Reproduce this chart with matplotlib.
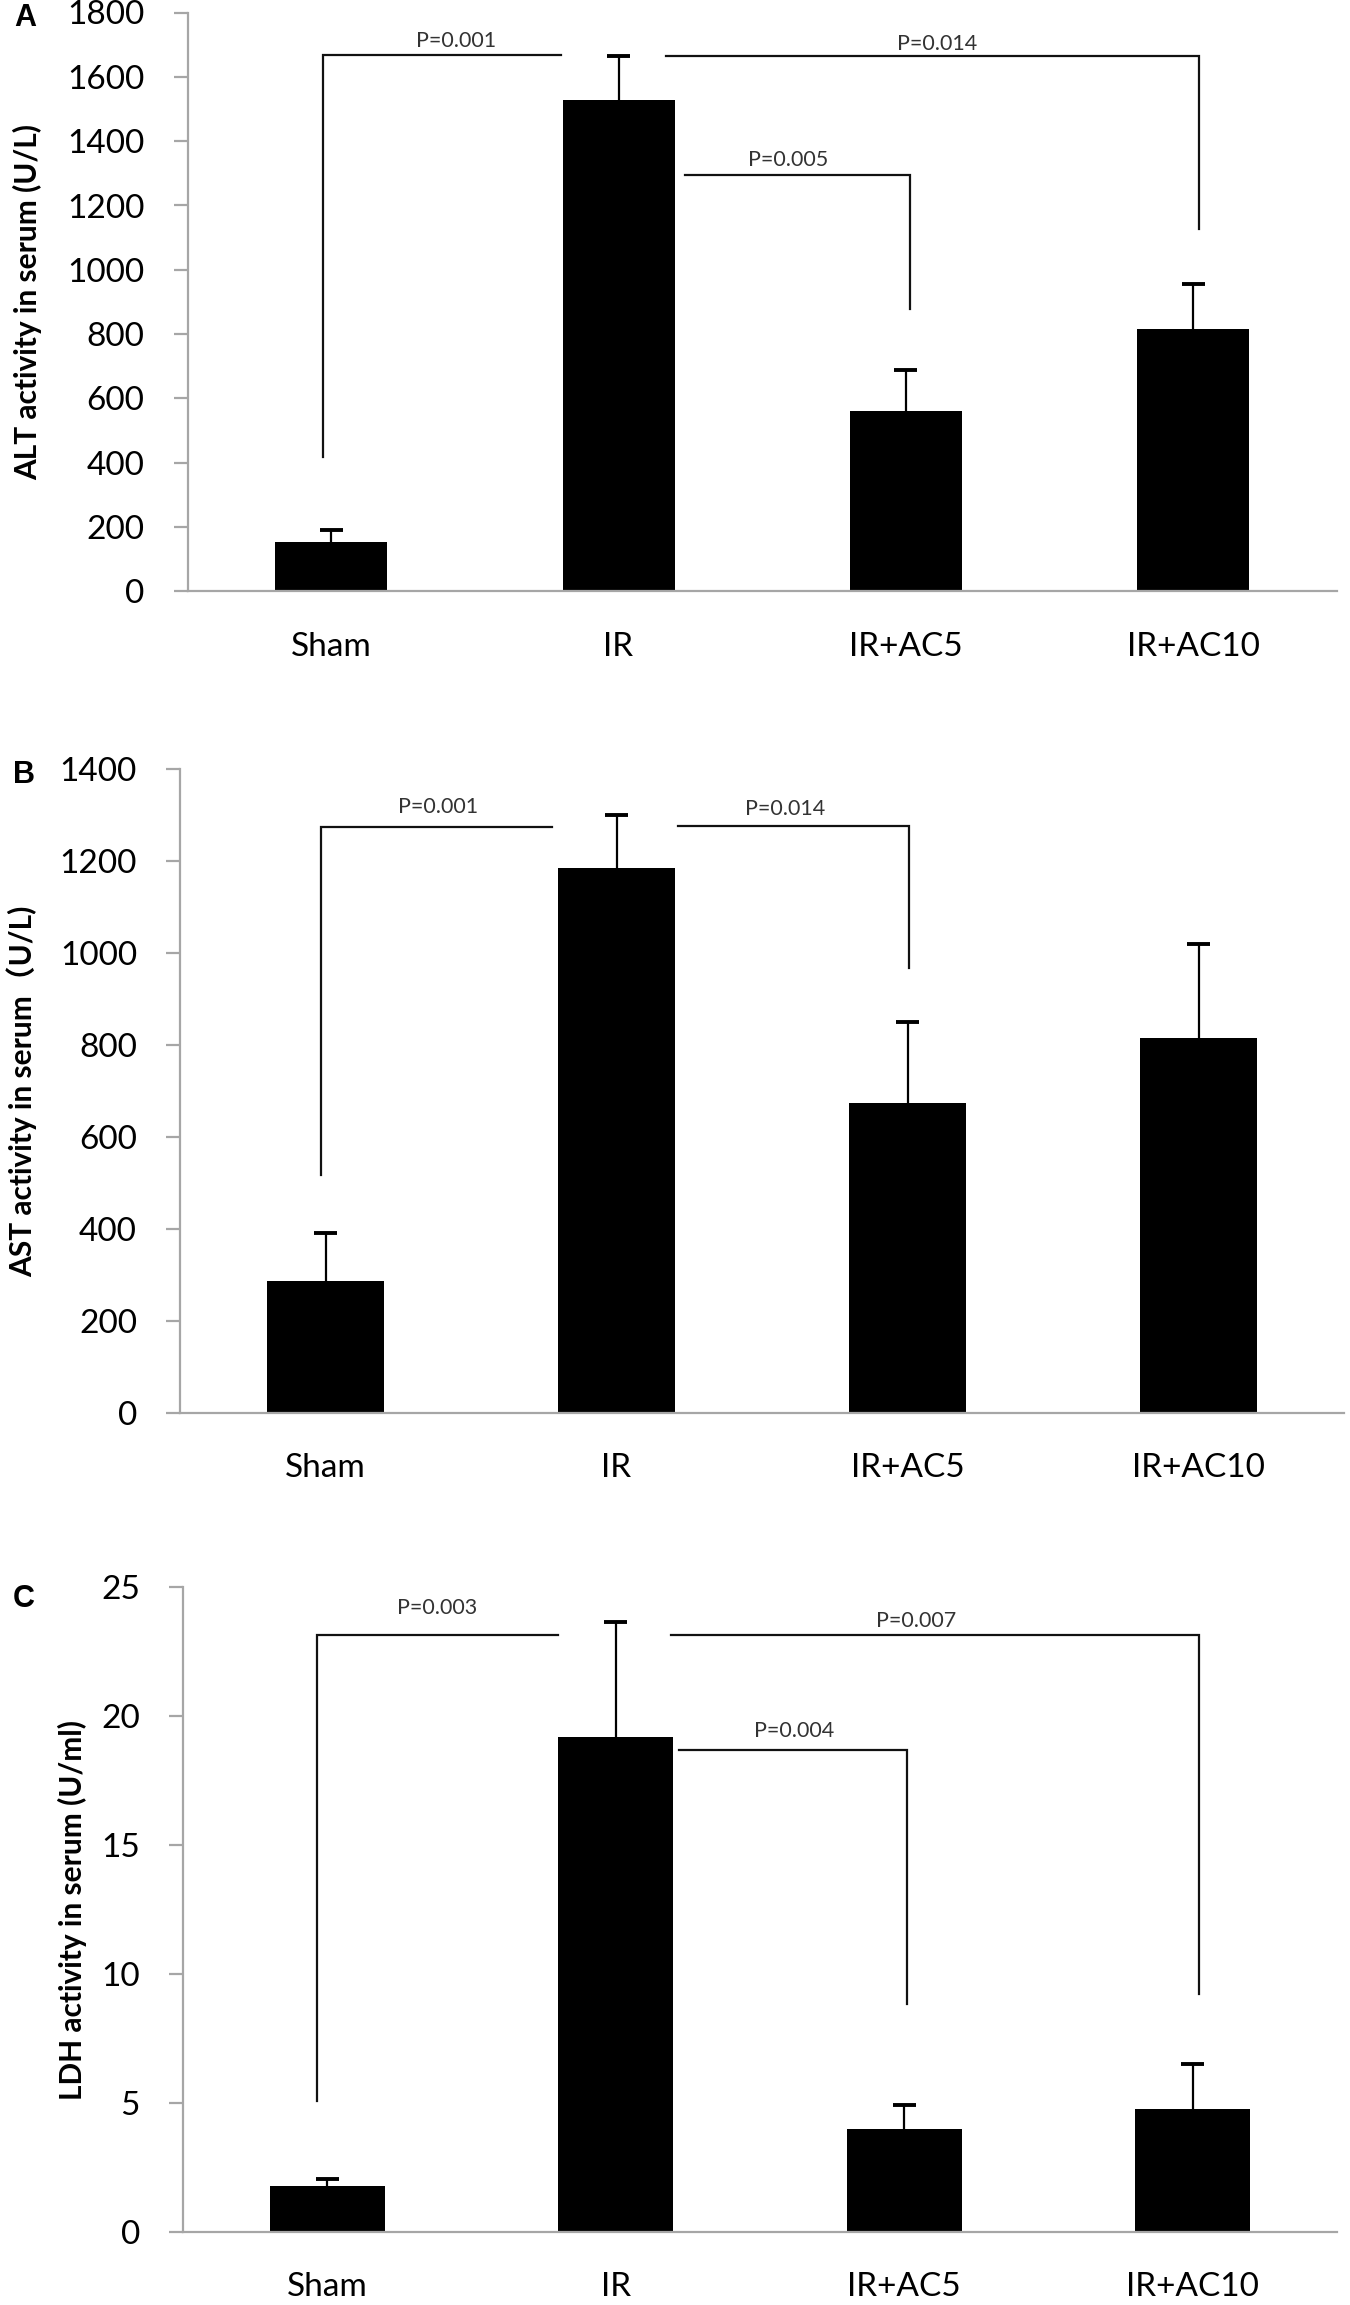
import matplotlib
matplotlib.use("Agg")
import matplotlib.pyplot as plt
import numpy as np

plt.rcParams["font.family"] = ["Lato", "Noto Sans CJK SC", "DejaVu Sans"]

groups = ["Sham", "IR", "IR+AC5", "IR+AC10"]

# mean and upper SD
alt_mean = [154, 1527, 562, 816]
alt_err = [37, 139, 128, 140]
ast_mean = [287, 1185, 675, 816]
ast_err = [104, 115, 174, 204]
ldh_mean = [1.80, 19.18, 3.98, 4.77]
ldh_err = [0.27, 4.45, 0.94, 1.75]

# significance brackets: (x of the drop, far end, line height, drop end, text, text x, text y)
alt_brackets = [
    (0.47, 1.30, 1668, 417, "P=0.001", 0.935, 1711),
    (3.52, 1.665, 1665, 1128, "P=0.014", 2.61, 1703),
    (2.515, 1.73, 1295, 878, "P=0.005", 2.09, 1342),
]
ast_brackets = [
    (0.485, 1.28, 1274, 517, "P=0.001", 0.887, 1317),
    (2.505, 1.71, 1276, 968, "P=0.014", 2.08, 1313),
]
ldh_brackets = [
    (0.465, 1.30, 23.14, 5.06, "P=0.003", 0.88, 24.2),
    (3.52, 1.69, 23.14, 9.22, "P=0.007", 2.54, 23.67),
    (2.51, 1.72, 18.69, 8.83, "P=0.004", 2.12, 19.4),
]

W, H = 1350, 2305
fig = plt.figure(figsize=(W / 100, H / 100), dpi=100)

GRAY = "#a6a6a6"


def px_axes(left, right, top, bottom):
    return fig.add_axes([left / W, 1 - bottom / H, (right - left) / W, (bottom - top) / H])


def panel(ax, means, errs, brackets, ymax, ystep, ylabel, label_x, bar_w):
    x = np.arange(len(groups)) + 0.5
    means = np.asarray(means)
    tops = means + np.asarray(errs)
    ax.bar(x, means, width=bar_w, color="black", zorder=2)
    # upper error bar only, Excel style
    ax.vlines(x, means, tops, color="black", lw=1.6, zorder=3)
    ax.hlines(tops, x - 0.04, x + 0.04, color="black", lw=2.8, zorder=3)
    for xd, xf, y, yend, txt, tx, ty in brackets:
        ax.plot([xf, xd, xd], [y, y, yend], color="#111111", lw=1.6,
                solid_joinstyle="miter", zorder=4)
        ax.text(tx, ty, txt, ha="center", va="center", fontsize=15.5, color="#333333")
    ax.set_xlim(0, 4)
    ax.set_ylim(0, ymax)
    ax.set_yticks(np.arange(0, ymax + ystep / 2, ystep))
    ax.set_xticks(x)
    ax.set_xticklabels(groups)
    for s in ["top", "right"]:
        ax.spines[s].set_visible(False)
    for s in ["left", "bottom"]:
        ax.spines[s].set_color(GRAY)
        ax.spines[s].set_linewidth(1.6)
    ax.tick_params(axis="y", length=10, width=1.6, color=GRAY, pad=21, labelsize=24)
    ax.tick_params(axis="x", length=0, pad=29, labelsize=24)
    ax.set_ylabel(ylabel, fontsize=21.5, fontweight="bold")
    ax.yaxis.set_label_coords(label_x, 0.5)


ax_a = px_axes(187.5, 1337, 12.5, 591.5)
panel(ax_a, alt_mean, alt_err, alt_brackets, 1800, 200,
      "ALT activity in serum (U/L)", -0.126, 0.39)

ax_b = px_axes(180, 1344, 769, 1413)
panel(ax_b, ast_mean, ast_err, ast_brackets, 1400, 200,
      "AST activity in serum（U/L)", -0.123, 0.40)

ax_c = px_axes(183, 1337, 1587, 2232)
panel(ax_c, ldh_mean, ldh_err, ldh_brackets, 25, 5,
      "LDH activity in serum (U/ml)", -0.083, 0.40)

for letter, (lx, ly) in zip("ABC", [(25, 18), (24, 775), (24, 1599)]):
    fig.text(lx / W, 1 - ly / H, letter, ha="center", va="center",
             fontsize=22, fontweight="bold", family="Liberation Sans")

fig.savefig("out.png", dpi=100, facecolor="white")
